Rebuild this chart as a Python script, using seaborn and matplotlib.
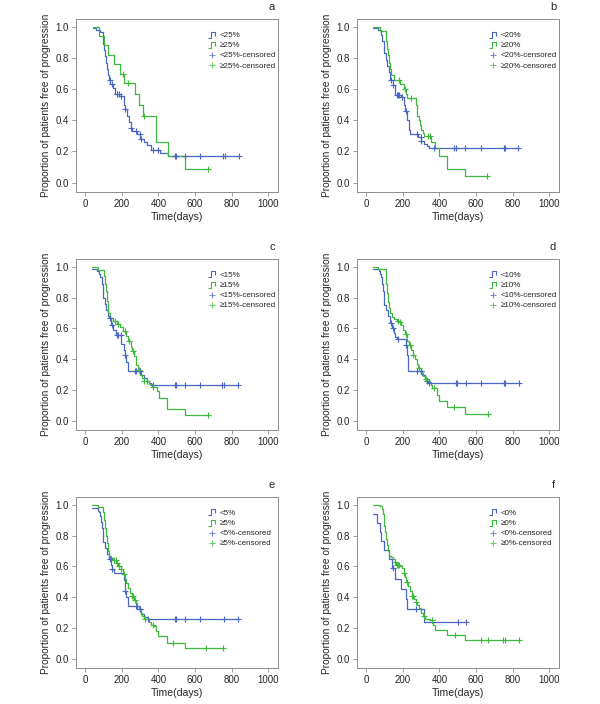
import numpy as np
import pandas as pd
import matplotlib
matplotlib.use('Agg')
import matplotlib.pyplot as plt
from matplotlib.lines import Line2D
from matplotlib.path import Path
import seaborn as sns

sns.set_style('white')
plt.rcParams['font.family'] = ['Liberation Sans', 'DejaVu Sans']

# %% data (time in days, proportion free of progression)
cuts = ['25%', '20%', '15%', '10%', '5%', '0%']
letters = ['a', 'b', 'c', 'd', 'e', 'f']

a_lo_t = [40, 60, 80, 95, 100, 105, 110, 115, 120, 125, 130, 135, 150, 165, 185, 210, 218, 228, 238, 248, 258,
          285, 300, 320, 340, 360, 410, 450, 840]
a_lo_s = [0.99, 0.98, 0.965, 0.93, 0.89, 0.85, 0.81, 0.77, 0.73, 0.69, 0.66, 0.635, 0.605, 0.57, 0.555, 0.50, 0.47,
          0.43, 0.39, 0.35, 0.33, 0.31, 0.28, 0.26, 0.24, 0.21, 0.19, 0.17, 0.17]
a_lo_c = [133, 146, 173, 184, 197, 220, 251, 279, 297, 306, 370, 397, 488, 497, 543, 628, 752, 761, 838]
a_hi_t = [40, 73, 105, 125, 155, 190, 212, 270, 295, 315, 385, 450, 545, 670]
a_hi_s = [1.0, 0.94, 0.88, 0.82, 0.76, 0.70, 0.64, 0.57, 0.50, 0.43, 0.26, 0.17, 0.085, 0.085]
a_hi_c = [208, 236, 322, 670]

b_lo_t = [38, 64, 80, 88, 95, 100, 108, 115, 122, 129, 145, 160, 190, 205, 212, 222, 232, 240, 285, 300, 315, 330,
          342, 830]
b_lo_s = [0.995, 0.98, 0.95, 0.91, 0.87, 0.83, 0.79, 0.75, 0.71, 0.66, 0.625, 0.565, 0.55, 0.50, 0.46, 0.40, 0.34,
          0.315, 0.29, 0.27, 0.25, 0.235, 0.22, 0.22]
b_lo_c = [135, 147, 167, 175, 180, 193, 220, 275, 297, 302, 368, 480, 489, 538, 626, 750, 757, 830]
b_hi_t = [38, 73, 106, 110, 115, 120, 125, 128, 133, 150, 185, 205, 215, 225, 270, 275, 280, 290, 295, 300, 310,
          318, 355, 375, 400, 443, 540, 660]
b_hi_s = [1.0, 0.97, 0.94, 0.91, 0.86, 0.82, 0.77, 0.73, 0.69, 0.66, 0.63, 0.60, 0.57, 0.54, 0.50, 0.46, 0.43,
          0.40, 0.37, 0.34, 0.32, 0.30, 0.26, 0.22, 0.17, 0.087, 0.044, 0.044]
b_hi_c = [179, 210, 243, 335, 350, 658]

c_lo_t = [36, 64, 78, 82, 90, 95, 100, 108, 115, 125, 130, 140, 150, 170, 197, 210, 219, 225, 233, 306, 320, 335,
          348, 360, 834]
c_lo_s = [0.985, 0.97, 0.95, 0.93, 0.89, 0.85, 0.80, 0.76, 0.72, 0.68, 0.665, 0.62, 0.59, 0.555, 0.50, 0.46, 0.43,
          0.38, 0.325, 0.30, 0.28, 0.26, 0.245, 0.235, 0.235]
c_lo_c = [133, 146, 173, 180, 195, 219, 270, 280, 297, 302, 370, 488, 494, 543, 628, 749, 756, 834]
c_hi_t = [36, 70, 105, 108, 112, 118, 122, 126, 135, 150, 175, 190, 205, 225, 235, 250, 255, 265, 275, 280, 290,
          300, 310, 320, 350, 365, 390, 405, 445, 545, 668]
c_hi_s = [1.0, 0.98, 0.94, 0.89, 0.84, 0.78, 0.73, 0.70, 0.665, 0.65, 0.63, 0.61, 0.58, 0.55, 0.52, 0.48, 0.45,
          0.42, 0.39, 0.36, 0.33, 0.30, 0.28, 0.26, 0.24, 0.22, 0.19, 0.15, 0.075, 0.037, 0.037]
c_hi_c = [165, 180, 215, 240, 260, 292, 322, 340, 370, 668]

d_lo_t = [38, 69, 75, 80, 85, 90, 95, 100, 110, 120, 130, 140, 150, 160, 170, 215, 222, 229, 305, 320, 330, 335,
          835]
d_lo_s = [0.983, 0.97, 0.95, 0.93, 0.89, 0.84, 0.80, 0.75, 0.72, 0.68, 0.635, 0.60, 0.57, 0.545, 0.53, 0.49, 0.43,
          0.32, 0.30, 0.28, 0.26, 0.245, 0.245]
d_lo_c = [135, 147, 175, 220, 276, 298, 302, 330, 344, 493, 498, 545, 627, 754, 760, 835]
d_hi_t = [38, 66, 106, 110, 115, 120, 125, 130, 140, 150, 170, 180, 190, 200, 210, 225, 235, 245, 255, 265, 275,
          285, 300, 310, 320, 345, 355, 362, 385, 400, 444, 538, 665]
d_hi_s = [1.0, 0.985, 0.94, 0.89, 0.83, 0.77, 0.73, 0.70, 0.675, 0.66, 0.65, 0.64, 0.62, 0.59, 0.56, 0.52, 0.49,
          0.46, 0.43, 0.40, 0.37, 0.34, 0.31, 0.29, 0.27, 0.25, 0.23, 0.21, 0.17, 0.13, 0.09, 0.044, 0.044]
d_hi_c = [175, 185, 215, 240, 258, 290, 325, 370, 479, 665]

e_lo_t = [36, 69, 78, 80, 85, 90, 95, 100, 110, 120, 130, 140, 145, 155, 210, 218, 225, 232, 285, 307, 320, 342,
          834]
e_lo_s = [0.98, 0.96, 0.95, 0.93, 0.89, 0.85, 0.80, 0.76, 0.72, 0.68, 0.65, 0.61, 0.585, 0.56, 0.51, 0.44, 0.40,
          0.345, 0.32, 0.29, 0.27, 0.255, 0.255]
e_lo_c = [133, 146, 220, 275, 297, 302, 342, 492, 497, 543, 628, 756, 834]
e_hi_t = [36, 69, 100, 105, 110, 115, 120, 125, 130, 140, 160, 170, 180, 195, 205, 220, 225, 235, 245, 255, 265,
          275, 285, 295, 305, 312, 320, 350, 360, 375, 385, 400, 445, 545, 752]
e_hi_s = [1.0, 0.985, 0.95, 0.90, 0.85, 0.80, 0.75, 0.70, 0.67, 0.655, 0.64, 0.62, 0.60, 0.58, 0.55, 0.52, 0.49,
          0.46, 0.43, 0.41, 0.38, 0.36, 0.34, 0.32, 0.30, 0.28, 0.255, 0.24, 0.22, 0.21, 0.18, 0.15, 0.105, 0.067,
          0.067]
e_hi_c = [160, 168, 175, 185, 195, 210, 255, 262, 270, 324, 370, 479, 661, 752]

f_lo_t = [38, 57, 75, 82, 97, 124, 142, 160, 188, 215, 225, 317, 546]
f_lo_s = [0.94, 0.88, 0.82, 0.765, 0.705, 0.645, 0.59, 0.52, 0.455, 0.39, 0.325, 0.24, 0.24]
f_lo_c = [145, 270, 499, 546]
f_hi_t = [38, 75, 85, 90, 95, 100, 105, 110, 115, 120, 125, 133, 145, 155, 165, 185, 195, 205, 210, 220, 230, 240,
          250, 260, 270, 280, 290, 300, 310, 320, 350, 358, 365, 375, 444, 537, 836]
f_hi_s = [1.0, 0.99, 0.97, 0.94, 0.90, 0.86, 0.82, 0.78, 0.74, 0.70, 0.67, 0.66, 0.645, 0.63, 0.61, 0.60, 0.59,
          0.56, 0.53, 0.50, 0.47, 0.44, 0.41, 0.39, 0.37, 0.35, 0.33, 0.30, 0.28, 0.26, 0.25, 0.235, 0.22, 0.19,
          0.155, 0.123, 0.123]
f_hi_c = [155, 170, 175, 180, 206, 225, 250, 258, 270, 315, 357, 484, 626, 663, 748, 757, 836]

curves = [
    (a_lo_t, a_lo_s, a_lo_c, a_hi_t, a_hi_s, a_hi_c),
    (b_lo_t, b_lo_s, b_lo_c, b_hi_t, b_hi_s, b_hi_c),
    (c_lo_t, c_lo_s, c_lo_c, c_hi_t, c_hi_s, c_hi_c),
    (d_lo_t, d_lo_s, d_lo_c, d_hi_t, d_hi_s, d_hi_c),
    (e_lo_t, e_lo_s, e_lo_c, e_hi_t, e_hi_s, e_hi_c),
    (f_lo_t, f_lo_s, f_lo_c, f_hi_t, f_hi_s, f_hi_c),
]

blue = '#4a66c4'
green = '#3dba3d'
grey = '#8c8c8c'

# little step glyph used by SPSS for the survival lines in the legend
step_icon = Path([(-1.0, -0.9), (-0.25, -0.9), (-0.25, 0.9), (0.7, 0.9), (0.7, -0.2)])


def step_at(t, s, c):
    idx = np.searchsorted(np.asarray(t), np.asarray(c), side='right') - 1
    return np.asarray(s)[np.clip(idx, 0, len(s) - 1)]


# %% figure
fig = plt.figure(figsize=(6, 7.04), dpi=100)
lefts = [0.1267, 0.595]
bottoms = [0.7273, 0.3892, 0.0511]
heights = [0.2457, 0.2429, 0.2429]

for i, (lo_t, lo_s, lo_c, hi_t, hi_s, hi_c) in enumerate(curves):
    row, col = divmod(i, 2)
    ax = fig.add_axes([lefts[col], bottoms[row], 0.3367, heights[row]])

    for t, s, c, colr in [(lo_t, lo_s, lo_c, blue), (hi_t, hi_s, hi_c, green)]:
        df = pd.DataFrame({'t': t, 's': s})
        sns.lineplot(data=df, x='t', y='s', ax=ax, color=colr, lw=0.9, drawstyle='steps-post',
                     sort=False, estimator=None, legend=False)
        cens = pd.DataFrame({'t': c, 's': step_at(t, s, c)})
        sns.scatterplot(data=cens, x='t', y='s', ax=ax, color=colr, marker='+', s=18,
                        linewidth=0.8, legend=False, zorder=3)

    ax.set_xlim(-50, 1053)
    ax.set_ylim(-0.06, 1.05)
    ax.set_xticks([0, 200, 400, 600, 800, 1000])
    ax.set_yticks([0.0, 0.2, 0.4, 0.6, 0.8, 1.0])
    ax.set_yticklabels(['0.0', '0.2', '0.4', '0.6', '0.8', '1.0'])
    ax.tick_params(direction='out', length=3, width=0.6, color=grey, labelsize=7, pad=2,
                   bottom=True, left=True)
    for sp in ax.spines.values():
        sp.set_color(grey)
        sp.set_linewidth(0.7)
    ax.set_xlabel('Time(days)', fontsize=7.6, labelpad=2)
    ax.set_ylabel('Proportion of patients free of progression', fontsize=7.3, labelpad=3)
    ax.text(0.97, 1.07, letters[i], transform=ax.transAxes, ha='center', va='center', fontsize=8)

    cut = cuts[i]
    handles = [
        Line2D([], [], ls='none', marker=step_icon, ms=5.5, mfc='none', mec=blue, mew=0.8),
        Line2D([], [], ls='none', marker=step_icon, ms=5.5, mfc='none', mec=green, mew=0.8),
        Line2D([], [], ls='none', marker='+', ms=5, mec=blue, mew=0.8, alpha=0.75),
        Line2D([], [], ls='none', marker='+', ms=5, mec=green, mew=0.8, alpha=0.75),
    ]
    labels = ['<' + cut, '≥' + cut, '<' + cut + '-censored', '≥' + cut + '-censored']
    ax.legend(handles, labels, loc='upper left', bbox_to_anchor=(0.635, 0.945), frameon=False,
              fontsize=5.8, handlelength=1.0, handletextpad=0.5, labelspacing=0.3, borderaxespad=0)

fig.savefig('out.png', dpi=100)
